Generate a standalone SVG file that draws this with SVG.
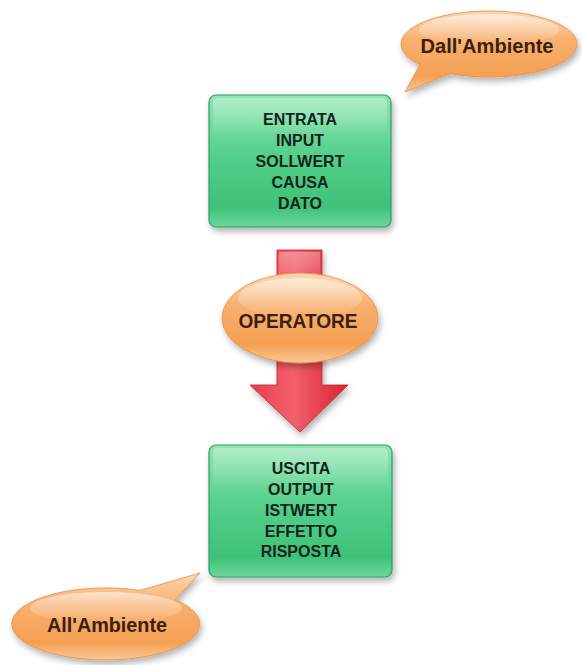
<svg xmlns="http://www.w3.org/2000/svg" width="582" height="665" viewBox="0 0 582 665">
<defs>
<linearGradient id="gGreen" x1="0" y1="0" x2="0" y2="1">
<stop offset="0" stop-color="#8fe6b2"/>
<stop offset="0.45" stop-color="#55cf8b"/>
<stop offset="0.85" stop-color="#3ec277"/>
<stop offset="1" stop-color="#6fd79b"/>
</linearGradient>
<linearGradient id="gOrange" x1="0" y1="0" x2="0" y2="1">
<stop offset="0" stop-color="#fcd8b0"/>
<stop offset="0.35" stop-color="#f8b070"/>
<stop offset="0.8" stop-color="#f4a052"/>
<stop offset="1" stop-color="#f9c999"/>
</linearGradient>
<linearGradient id="gRed" x1="0" y1="0" x2="1" y2="0">
<stop offset="0" stop-color="#ea3f4b"/>
<stop offset="0.45" stop-color="#f2606c"/>
<stop offset="1" stop-color="#d8232f"/>
</linearGradient>
<linearGradient id="gRedTop" x1="0" y1="0" x2="0" y2="1">
<stop offset="0" stop-color="#ffffff" stop-opacity="0.3"/>
<stop offset="1" stop-color="#ffffff" stop-opacity="0"/>
</linearGradient>
<linearGradient id="gShine" x1="0" y1="0" x2="0" y2="1">
<stop offset="0" stop-color="#ffffff" stop-opacity="0.55"/>
<stop offset="1" stop-color="#ffffff" stop-opacity="0"/>
</linearGradient>
<filter id="shadow" x="-20%" y="-20%" width="140%" height="150%">
<feDropShadow dx="2" dy="4" stdDeviation="3" flood-color="#000" flood-opacity="0.3"/>
</filter>
</defs>
<style>
.box{fill:url(#gGreen);stroke:#2f9d63;stroke-width:1.2;filter:url(#shadow)}
.bubble{fill:url(#gOrange);stroke:#e98c3c;stroke-width:0.8;filter:url(#shadow)}
.shine{fill:url(#gShine)}
.bt{font-family:"Liberation Sans",Arial,sans-serif;font-weight:bold;font-size:16px;fill:#13241a;text-anchor:middle}
.ot{font-family:"Liberation Sans",Arial,sans-serif;font-weight:bold;font-size:20px;fill:#3a200e;text-anchor:middle}
</style>
<rect width="582" height="665" fill="#ffffff"/>

<g id="connectors">
<g id="arrow" filter="url(#shadow)">
<path d="M277,250 L322,250 L322,385 L348,385 L300,432 L250,385 L277,385 Z" fill="url(#gRed)" stroke="#c8202e" stroke-width="0.8"/>
<path d="M279,252 L320,252 L320,290 L279,290 Z" fill="url(#gRedTop)"/>
</g>
</g>

<g id="dall-ambiente">
<path class="bubble" d="M450,73.6 A88,33 0 1 0 420,64.5 L405,92 Z"/>
<ellipse class="shine" cx="489" cy="30" rx="70" ry="16"/>
<text class="ot" x="487" y="53" textLength="133" lengthAdjust="spacingAndGlyphs">Dall'Ambiente</text>
</g>

<g id="entrata">
<rect class="box" x="209" y="95" width="182" height="132" rx="7"/>
<rect class="shine" x="213" y="98" width="174" height="40" rx="5" opacity="0.6"/>
<text class="bt" x="300" y="125">ENTRATA</text>
<text class="bt" x="300" y="146">INPUT</text>
<text class="bt" x="300" y="167">SOLLWERT</text>
<text class="bt" x="300" y="188">CAUSA</text>
<text class="bt" x="300" y="209">DATO</text>
</g>

<g id="operatore">
<ellipse class="bubble" cx="300" cy="318" rx="78" ry="45"/>
<ellipse class="shine" cx="300" cy="298" rx="62" ry="20"/>
<text class="ot" x="298" y="328" textLength="119" lengthAdjust="spacingAndGlyphs">OPERATORE</text>
</g>

<g id="uscita">
<rect class="box" x="209" y="445" width="183" height="132" rx="7"/>
<rect class="shine" x="213" y="448" width="175" height="40" rx="5" opacity="0.6"/>
<text class="bt" x="301" y="474">USCITA</text>
<text class="bt" x="301" y="495">OUTPUT</text>
<text class="bt" x="301" y="516">ISTWERT</text>
<text class="bt" x="301" y="537">EFFETTO</text>
<text class="bt" x="301" y="557">RISPOSTA</text>
</g>

<g id="all-ambiente">
<path class="bubble" d="M175,599.6 A94,36 0 1 1 140,590.4 L200,573 Z"/>
<ellipse class="shine" cx="106" cy="608" rx="76" ry="16"/>
<text class="ot" x="107" y="632" textLength="120" lengthAdjust="spacingAndGlyphs">All'Ambiente</text>
</g>
</svg>
